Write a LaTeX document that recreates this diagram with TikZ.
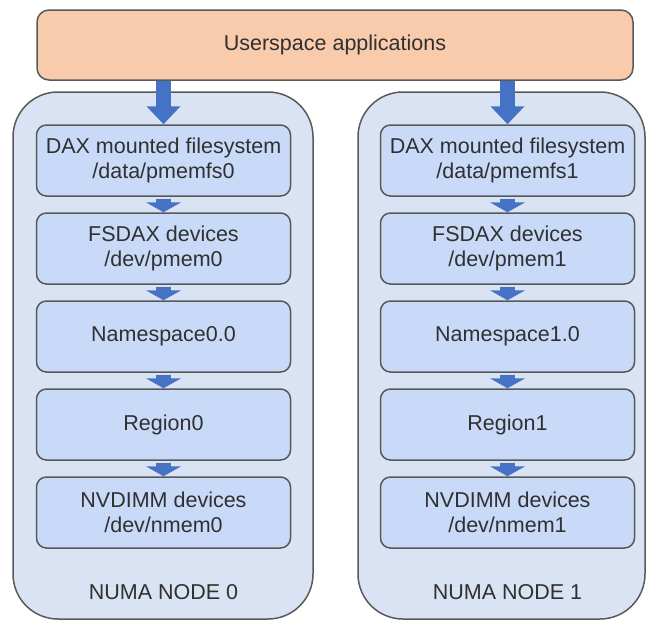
\documentclass[tikz,border=0pt]{standalone}
\usepackage{fontspec}
\setmainfont{Liberation Sans}
\usetikzlibrary{arrows.meta}
\definecolor{peach}{HTML}{F8CBAD}
\definecolor{boxblue}{HTML}{C9DAF8}
\definecolor{numablue}{HTML}{DAE3F3}
\definecolor{arrowblue}{HTML}{4472C4}
\definecolor{bordergray}{HTML}{595959}
\definecolor{textgray}{HTML}{303030}

\begin{document}
\begin{tikzpicture}[x=1pt,y=-1pt,
    txt/.style={text=textgray,font=\fontsize{21.5}{25}\selectfont},
    box/.style={txt,draw=bordergray,line width=1.5pt,rounded corners=10pt,fill=boxblue,
      minimum width=254pt,minimum height=71pt,align=center},
    numa/.style={draw=bordergray,line width=1.5pt,rounded corners=45pt,fill=numablue,
      minimum height=527pt},
    bigarrow/.style={arrowblue,line width=15pt,-{Triangle[width=33pt,length=18pt]}},
    smallarrow/.style={arrowblue,line width=15pt,-{Triangle[width=35pt,length=10pt]}}]
  \useasboundingbox (0,0) rectangle (646,621);
  %\draw[very thin,lightgray] (0,0) grid[step=50pt] (646,621);
  \node[txt,draw=bordergray,line width=1.5pt,rounded corners=12pt,fill=peach,
    minimum width=596pt,minimum height=70pt] (user) at (335,45) {Userspace applications};
  \foreach \i/\x/\cx/\w in {0/163.5/163/300,1/507.5/501.5/287}{
    \node[numa,minimum width=\w pt] (numa\i) at (\cx,355.5) {};
    \node[box] (dax\i) at (\x,160.5) {DAX mounted filesystem\\/data/pmemfs\i};
    \node[box] (fsdax\i) at (\x,248.5) {FSDAX devices\\/dev/pmem\i};
    \node[box] (ns\i) at (\x,336.5) {Namespace\i.0};
    \node[box] (region\i) at (\x,424.5) {Region\i};
    \node[box] (nvdimm\i) at (\x,512.5) {NVDIMM devices\\/dev/nmem\i};
    \node[txt] (label\i) at (\x,592) {NUMA NODE \i};
    \draw[bigarrow] (user.south -| dax\i.north) -- (dax\i.north);
    \draw[smallarrow] ([yshift=-2pt]dax\i.south) -- (fsdax\i.north);
    \draw[smallarrow] ([yshift=-2pt]fsdax\i.south) -- (ns\i.north);
    \draw[smallarrow] ([yshift=-2pt]ns\i.south) -- (region\i.north);
    \draw[smallarrow] ([yshift=-2pt]region\i.south) -- (nvdimm\i.north);
  }
\end{tikzpicture}
\end{document}
